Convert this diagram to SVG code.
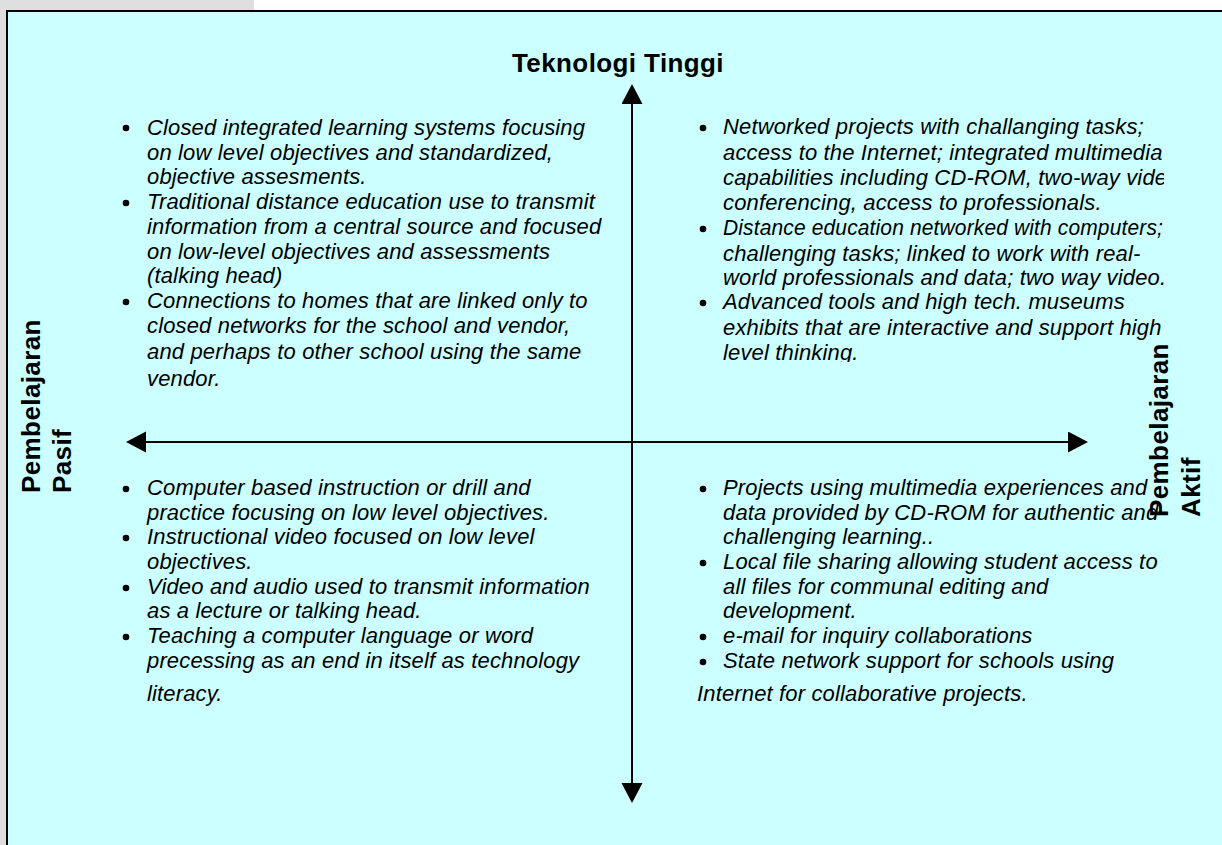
<svg xmlns="http://www.w3.org/2000/svg" width="1222" height="845" viewBox="0 0 1222 845">
<style>
.body{font-family:"Liberation Sans",Arial,sans-serif;font-style:italic;font-size:22px;letter-spacing:0.15px;fill:#000}
.head{font-family:"Liberation Sans",Arial,sans-serif;font-weight:bold;font-size:26px;letter-spacing:0.4px;fill:#000}
.axis{stroke:#000;stroke-width:2;fill:none}
.dot{fill:#000}
</style>
<defs>
<marker id="ah" markerUnits="userSpaceOnUse" markerWidth="21" markerHeight="22" refX="0" refY="10.5" orient="auto-start-reverse" viewBox="0 0 21 22">
<path d="M0,0 L20,10.5 L0,21 Z" fill="#000"/>
</marker>
<clipPath id="clipTR"><rect x="680" y="100" width="484" height="262"/></clipPath>
</defs>
<rect x="0" y="0" width="1222" height="845" fill="#fff"/>
<rect x="0" y="0" width="254" height="11" fill="#dfdfdf"/>
<rect x="0" y="0" width="7" height="845" fill="#dfdfdf"/>
<rect x="7" y="11" width="1220" height="840" fill="#ccffff" stroke="#000" stroke-width="2"/>
<g id="connectors">
<line class="axis" x1="632" y1="104" x2="632" y2="783" marker-start="url(#ah)" marker-end="url(#ah)"/>
<line class="axis" x1="146" y1="442" x2="1068" y2="442" marker-start="url(#ah)" marker-end="url(#ah)"/>
</g>
<g id="label-top">
<text class="head" x="618" y="72" text-anchor="middle">Teknologi Tinggi</text>
</g>
<g id="label-left">
<text class="head" transform="translate(40,493) rotate(-90)">Pembelajaran</text>
<text class="head" transform="translate(71,493) rotate(-90)">Pasif</text>
</g>
<g id="label-right">
<text class="head" transform="translate(1168,517) rotate(-90)">Pembelajaran</text>
<text class="head" transform="translate(1200,517) rotate(-90)">Aktif</text>
</g>
<g id="quadrant-top-left">
<circle class="dot" cx="126" cy="128" r="3.3"/>
<circle class="dot" cx="126" cy="203" r="3.3"/>
<circle class="dot" cx="126" cy="302" r="3.3"/>
<text class="body">
<tspan x="147" y="135">Closed integrated learning systems focusing</tspan>
<tspan x="147" y="160">on low level objectives and standardized,</tspan>
<tspan x="147" y="184">objective assesments.</tspan>
<tspan x="147" y="209">Traditional distance education use to transmit</tspan>
<tspan x="147" y="234">information from a central source and focused</tspan>
<tspan x="147" y="259">on low-level objectives and assessments</tspan>
<tspan x="147" y="283">(talking head)</tspan>
<tspan x="147" y="308">Connections to homes that are linked only to</tspan>
<tspan x="147" y="333">closed networks for the school and vendor,</tspan>
<tspan x="147" y="359">and perhaps to other school using the same</tspan>
<tspan x="147" y="386">vendor.</tspan>
</text>
</g>
<g id="quadrant-top-right">
<circle class="dot" cx="703" cy="128" r="3.3"/>
<circle class="dot" cx="703" cy="229" r="3.3"/>
<circle class="dot" cx="703" cy="303" r="3.3"/>
<text class="body" clip-path="url(#clipTR)">
<tspan x="723" y="134">Networked projects with challanging tasks;</tspan>
<tspan x="723" y="160">access to the Internet; integrated multimedia</tspan>
<tspan x="723" y="185">capabilities including CD-ROM, two-way video</tspan>
<tspan x="723" y="210">conferencing, access to professionals.</tspan>
<tspan x="723" y="235" textLength="440" lengthAdjust="spacingAndGlyphs">Distance education networked with computers;</tspan>
<tspan x="723" y="261">challenging tasks; linked to work with real-</tspan>
<tspan x="723" y="285">world professionals and data; two way video.</tspan>
<tspan x="723" y="309">Advanced tools and high tech. museums</tspan>
<tspan x="723" y="335">exhibits that are interactive and support high</tspan>
<tspan x="723" y="360">level thinking.</tspan>
</text>
</g>
<g id="quadrant-bottom-left">
<circle class="dot" cx="126" cy="489" r="3.3"/>
<circle class="dot" cx="126" cy="538" r="3.3"/>
<circle class="dot" cx="126" cy="588" r="3.3"/>
<circle class="dot" cx="126" cy="637" r="3.3"/>
<text class="body">
<tspan x="147" y="495">Computer based instruction or drill and</tspan>
<tspan x="147" y="520">practice focusing on low level objectives.</tspan>
<tspan x="147" y="544">Instructional video focused on low level</tspan>
<tspan x="147" y="569">objectives.</tspan>
<tspan x="147" y="594">Video and audio used to transmit information</tspan>
<tspan x="147" y="618">as a lecture or talking head.</tspan>
<tspan x="147" y="643">Teaching a computer language or word</tspan>
<tspan x="147" y="668">precessing as an end in itself as technology</tspan>
<tspan x="147" y="701">literacy.</tspan>
</text>
</g>
<g id="quadrant-bottom-right">
<circle class="dot" cx="703" cy="489" r="3.3"/>
<circle class="dot" cx="703" cy="563" r="3.3"/>
<circle class="dot" cx="703" cy="637" r="3.3"/>
<circle class="dot" cx="703" cy="662" r="3.3"/>
<text class="body">
<tspan x="723" y="495">Projects using multimedia experiences and</tspan>
<tspan x="723" y="520">data provided by CD-ROM for authentic and</tspan>
<tspan x="723" y="544">challenging learning..</tspan>
<tspan x="723" y="569">Local file sharing allowing student access to</tspan>
<tspan x="723" y="594">all files for communal editing and</tspan>
<tspan x="723" y="618">development.</tspan>
<tspan x="723" y="643">e-mail for inquiry collaborations</tspan>
<tspan x="723" y="668">State network support for schools using</tspan>
<tspan x="697" y="701">Internet for collaborative projects.</tspan>
</text>
</g>
</svg>
